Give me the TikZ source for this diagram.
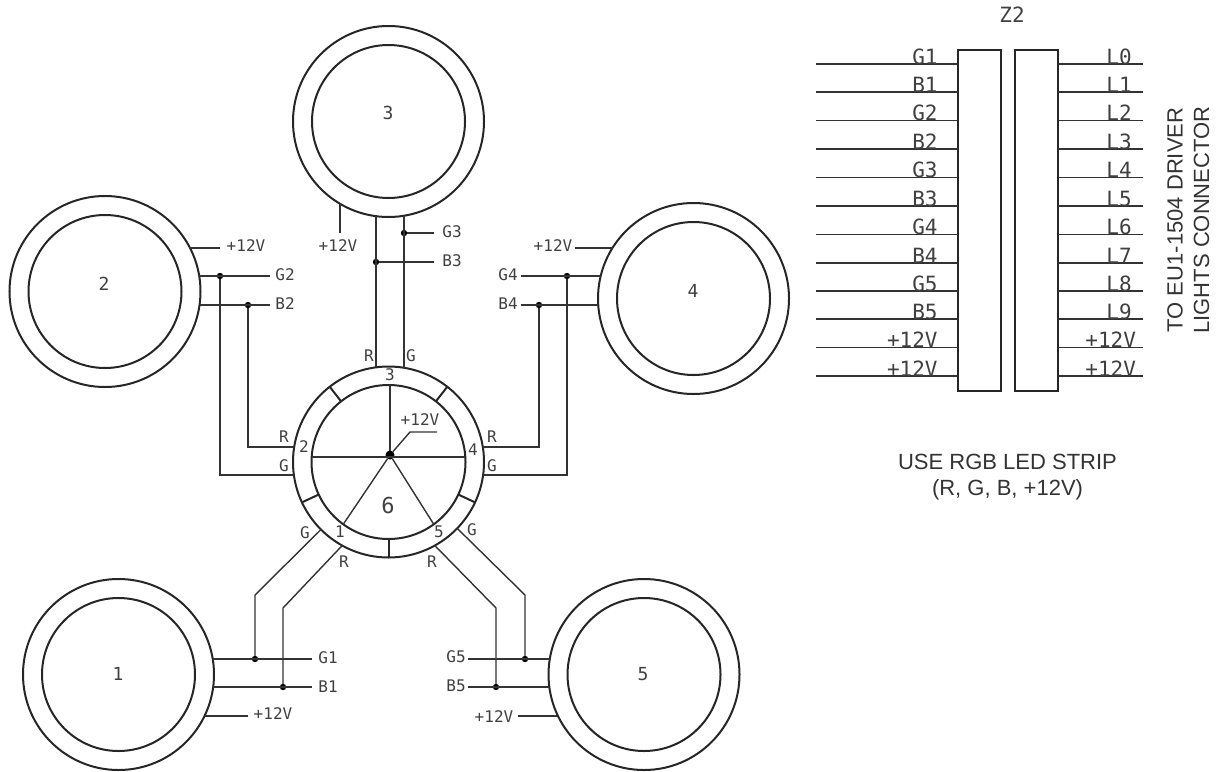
\documentclass[tikz,border=0pt]{standalone}
\usepackage{fontspec}
\setmainfont{Liberation Sans}
\newfontfamily\cadfont{DejaVu Sans Mono}
\tikzset{
  ledouter/.style={draw=black!85,circle,line width=1pt,inner sep=0pt,outer sep=0pt,minimum size=95.5pt},
  ledinner/.style={draw=black!85,circle,line width=1pt,inner sep=0pt,outer sep=0pt,minimum size=76.5pt},
  wire/.style={draw=black!80,line width=0.7pt},
  junction/.style={circle,fill=black,inner sep=0pt,outer sep=0pt,minimum size=3.2pt},
  lbl/.style={text=black!75,inner sep=0pt,font=\cadfont\fontsize{8}{8}\selectfont},
  num/.style={text=black!75,inner sep=0pt,font=\cadfont\fontsize{9}{9}\selectfont},
  pin/.style={text=black!75,inner sep=0pt,font=\cadfont\fontsize{10.5}{10.5}\selectfont},
  plug/.style={draw=black!85,line width=1pt,inner sep=0pt,outer sep=0pt,minimum width=21.5pt,minimum height=170.5pt},
  note/.style={text=black!80,inner sep=0pt,font=\fontsize{11}{11}\selectfont}
}
\begin{document}
\begin{tikzpicture}[x=0.5pt,y=-0.5pt]
  \useasboundingbox (0,0) rectangle (1219,771);
  \draw
    (118.5,674.5) node[ledouter] (led1){}
    (105,291.5) node[ledouter] (led2){}
    (388.5,121.5) node[ledouter] (led3){}
    (693.5,298.5) node[ledouter] (led4){}
    (644,674.5) node[ledouter] (led5){}
    (118.5,674.5) node[ledinner] (in1){}
    (105,291.5) node[ledinner] (in2){}
    (388.5,121.5) node[ledinner] (in3){}
    (693.5,298.5) node[ledinner] (in4){}
    (644,674.5) node[ledinner] (in5){}
    (388.5,462) node[ledouter] (hub){}
    (388.5,462) node[ledinner,minimum size=77pt] (hubin){};
  \draw
    (118,674) node[num] (n1){1}
    (104,284) node[num] (n2){2}
    (388,113) node[num] (n3){3}
    (693,291) node[num] (n4){4}
    (643,674) node[num] (n5){5}
    (388,505) node[num,font=\cadfont\fontsize{11}{11}\selectfont] (n6){6}
    (340,532) node[lbl] (h1){1}
    (304,447) node[lbl] (h2){2}
    (390,375) node[lbl] (h3){3}
    (473,450) node[lbl] (h4){4}
    (439,532) node[lbl] (h5){5};
  % free ends and junctions
  \draw
    (248,716) coordinate (e1v)
    (312,659) coordinate (e1g)
    (312,687) coordinate (e1b)
    (220,248) coordinate (e2v)
    (270,276) coordinate (e2g)
    (270,305) coordinate (e2b)
    (340,233) coordinate (e3v)
    (434,233) coordinate (e3g)
    (434,262) coordinate (e3b)
    (575,248) coordinate (e4v)
    (521,276) coordinate (e4g)
    (521,305) coordinate (e4b)
    (518,716) coordinate (e5v)
    (468,659) coordinate (e5g)
    (468,687) coordinate (e5b)
    (255,659) node[junction] (j1g){}
    (283,687) node[junction] (j1b){}
    (220,276) node[junction] (j2g){}
    (248,305) node[junction] (j2b){}
    (404,233) node[junction] (j3g){}
    (376,262) node[junction] (j3b){}
    (567,276) node[junction] (j4g){}
    (539,305) node[junction] (j4b){}
    (525,659) node[junction] (j5g){}
    (496,687) node[junction] (j5b){}
    (390,455) node[junction,minimum size=4.5pt] (star){}
    (390,457) coordinate (h6)
    (255,595) coordinate (k1g)
    (283,608) coordinate (k1b)
    (220,475) coordinate (k2g)
    (248,447) coordinate (k2b)
    (567,475) coordinate (k4g)
    (539,447) coordinate (k4b)
    (525,595) coordinate (k5g)
    (496,608) coordinate (k5b)
    (410,432) coordinate (v6a)
    (437,432) coordinate (v6b);
  \draw
    (273,714) node[lbl] (v1){+12V}
    (328,658) node[lbl] (g1){G1}
    (328,687) node[lbl] (b1){B1}
    (246,246) node[lbl] (v2){+12V}
    (285,275) node[lbl] (g2){G2}
    (285,304) node[lbl] (b2){B2}
    (338,246) node[lbl] (v3){+12V}
    (452,232) node[lbl] (g3){G3}
    (452,261) node[lbl] (b3){B3}
    (553,246) node[lbl] (v4){+12V}
    (508,275) node[lbl] (g4){G4}
    (508,304) node[lbl] (b4){B4}
    (494,717) node[lbl] (v5){+12V}
    (456,657) node[lbl] (g5){G5}
    (456,686) node[lbl] (b5){B5}
    (420,420) node[lbl] (v6){+12V}
    (344,562) node[lbl] (r1){R}
    (305,533) node[lbl] (q1){G}
    (284,437) node[lbl] (r2){R}
    (284,466) node[lbl] (q2){G}
    (369,356) node[lbl] (r3){R}
    (411,356) node[lbl] (q3){G}
    (492,437) node[lbl] (r4){R}
    (492,466) node[lbl] (q4){G}
    (432,562) node[lbl] (r5){R}
    (472,530) node[lbl] (q5){G};
  \begin{scope}[wire]
    \draw (e1v -| led1.-25.8) to (e1v);
    \draw (e1g -| led1.9.3) to (e1g);
    \draw (e1b -| led1.-7.5) to (e1b);
    \draw (e2v -| led2.27.1) to (e2v);
    \draw (e2g -| led2.9.3) to (e2g);
    \draw (e2b -| led2.-8.1) to (e2b);
    \draw (e3v |- led3.-120.5) to (e3v);
    \draw (j3g) to (e3g);
    \draw (j3b) to (e3b);
    \draw (e4v -| led4.148.1) to (e4v);
    \draw (e4g -| led4.166.4) to (e4g);
    \draw (e4b -| led4.183.9) to (e4b);
    \draw (e5v -| led5.205.8) to (e5v);
    \draw (e5g -| led5.170.7) to (e5g);
    \draw (e5b -| led5.187.5) to (e5b);
    \draw (j3b |- led3.-97.5) to (j3b |- hub.97.5);
    \draw (j3g |- led3.-80.7) to (j3g |- hub.80.7);
    \draw (j1g) -- (k1g) -- (hub.225);
    \draw (j1b) -- (k1b) -- (hub.241.8);
    \draw (j2g) -- (k2g) -- (k2g -| hub.187.8);
    \draw (j2b) -- (k2b) -- (k2b -| hub.171);
    \draw (j4g) -- (k4g) -- (k4g -| hub.-7.8);
    \draw (j4b) -- (k4b) -- (k4b -| hub.9);
    \draw (j5g) -- (k5g) -- (hub.-44.4);
    \draw (j5b) -- (k5b) -- (hub.-61.8);
    \draw (star) to (star |- hubin.89);
    \draw (h6 -| hubin.176.3) to (h6 -| hubin.3.7);
    \draw (star) to (hubin.234.5);
    \draw (star) to (hubin.-54.5);
    \draw (star) -- (v6a) -- (v6b);
  \end{scope}
  \begin{scope}[line width=1pt,draw=black!85]
    \draw (hub.52) to (hubin.52);
    \draw (hub.128) to (hubin.128);
    \draw (hub.205) to (hubin.205);
    \draw (hub.270) to (hubin.270);
    \draw (hub.335) to (hubin.335);
  \end{scope}
  \draw
    (979.5,220.5) node[plug] (zleft){}
    (1036.5,220.5) node[plug] (zright){}
    (1012,15) node[pin] (ztitle){Z2};
  \draw
    (816,64) coordinate (a1)
    (816,92) coordinate (a2)
    (816,120.5) coordinate (a3)
    (816,149) coordinate (a4)
    (816,177.5) coordinate (a5)
    (816,206) coordinate (a6)
    (816,234.5) coordinate (a7)
    (816,263) coordinate (a8)
    (816,291) coordinate (a9)
    (816,319) coordinate (a10)
    (816,347.5) coordinate (a11)
    (816,376) coordinate (a12)
    (1143,64) coordinate (c1)
    (1143,92) coordinate (c2)
    (1143,120.5) coordinate (c3)
    (1143,149) coordinate (c4)
    (1143,177.5) coordinate (c5)
    (1143,206) coordinate (c6)
    (1143,234.5) coordinate (c7)
    (1143,263) coordinate (c8)
    (1143,291) coordinate (c9)
    (1143,319) coordinate (c10)
    (1143,347.5) coordinate (c11)
    (1143,376) coordinate (c12);
  \begin{scope}[wire]
    \draw (a1) to (a1 -| zleft.west);
    \draw (a2) to (a2 -| zleft.west);
    \draw (a3) to (a3 -| zleft.west);
    \draw (a4) to (a4 -| zleft.west);
    \draw (a5) to (a5 -| zleft.west);
    \draw (a6) to (a6 -| zleft.west);
    \draw (a7) to (a7 -| zleft.west);
    \draw (a8) to (a8 -| zleft.west);
    \draw (a9) to (a9 -| zleft.west);
    \draw (a10) to (a10 -| zleft.west);
    \draw (a11) to (a11 -| zleft.west);
    \draw (a12) to (a12 -| zleft.west);
    \draw (c1) to (c1 -| zright.east);
    \draw (c2) to (c2 -| zright.east);
    \draw (c3) to (c3 -| zright.east);
    \draw (c4) to (c4 -| zright.east);
    \draw (c5) to (c5 -| zright.east);
    \draw (c6) to (c6 -| zright.east);
    \draw (c7) to (c7 -| zright.east);
    \draw (c8) to (c8 -| zright.east);
    \draw (c9) to (c9 -| zright.east);
    \draw (c10) to (c10 -| zright.east);
    \draw (c11) to (c11 -| zright.east);
    \draw (c12) to (c12 -| zright.east);
  \end{scope}
  \draw
    (938,64) node[pin,anchor=base east] (p1){G1}
    (938,92) node[pin,anchor=base east] (p2){B1}
    (938,120.5) node[pin,anchor=base east] (p3){G2}
    (938,149) node[pin,anchor=base east] (p4){B2}
    (938,177.5) node[pin,anchor=base east] (p5){G3}
    (938,206) node[pin,anchor=base east] (p6){B3}
    (938,234.5) node[pin,anchor=base east] (p7){G4}
    (938,263) node[pin,anchor=base east] (p8){B4}
    (938,291) node[pin,anchor=base east] (p9){G5}
    (938,319) node[pin,anchor=base east] (p10){B5}
    (938,347.5) node[pin,anchor=base east] (p11){+12V}
    (938,376) node[pin,anchor=base east] (p12){+12V}
    (1106,64) node[pin,anchor=base west] (l0){L0}
    (1106,92) node[pin,anchor=base west] (l1){L1}
    (1106,120.5) node[pin,anchor=base west] (l2){L2}
    (1106,149) node[pin,anchor=base west] (l3){L3}
    (1106,177.5) node[pin,anchor=base west] (l4){L4}
    (1106,206) node[pin,anchor=base west] (l5){L5}
    (1106,234.5) node[pin,anchor=base west] (l6){L6}
    (1106,263) node[pin,anchor=base west] (l7){L7}
    (1106,291) node[pin,anchor=base west] (l8){L8}
    (1106,319) node[pin,anchor=base west] (l9){L9}
    (1085,347.5) node[pin,anchor=base west] (l10){+12V}
    (1085,376) node[pin,anchor=base west] (l11){+12V};
  \draw
    (1175,220) node[note,rotate=90] (driver){TO EU1-1504 DRIVER}
    (1201.5,220) node[note,rotate=90] (lights){LIGHTS CONNECTOR}
    (1007.5,462) node[note] (strip){USE RGB LED STRIP}
    (1007.5,490) node[note] (rgb){(R, G, B, +12V)};
\end{tikzpicture}
\end{document}
